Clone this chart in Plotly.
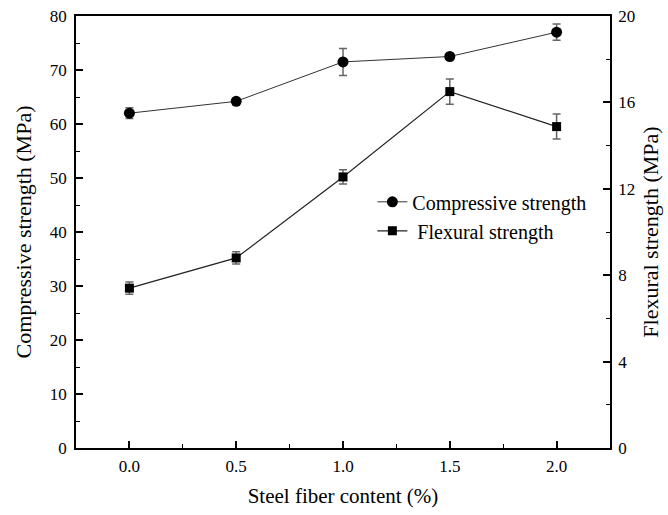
import plotly.graph_objects as go

# Steel fiber content (%)
fiber = [0.0, 0.5, 1.0, 1.5, 2.0]

# Compressive strength (MPa) and its standard deviation
compressive = [62.0, 64.2, 71.5, 72.5, 77.0]
compressive_err = [1.0, 0.5, 2.5, 0.5, 1.5]

# Flexural strength (MPa) and its standard deviation
flexural = [7.4, 8.8, 12.55, 16.5, 14.88]
flexural_err = [0.28, 0.28, 0.33, 0.58, 0.58]

x_ticks = [0.0, 0.5, 1.0, 1.5, 2.0]
left_ticks = list(range(0, 81, 10))
right_ticks = list(range(0, 21, 4))

FONT = "Liberation Serif, Times New Roman, serif"

fig = go.Figure()

fig.add_trace(go.Scatter(
    x=fiber, y=compressive, name="Compressive strength",
    mode="lines+markers",
    line=dict(color="#333333", width=1),
    marker=dict(symbol="circle", size=11, color="black"),
    error_y=dict(type="data", array=compressive_err, color="#666666",
                 thickness=1.5, width=4),
))

fig.add_trace(go.Scatter(
    x=fiber, y=flexural, name=" Flexural strength",
    mode="lines+markers", yaxis="y2",
    line=dict(color="#222222", width=1.2),
    marker=dict(symbol="square", size=9, color="black"),
    error_y=dict(type="data", array=flexural_err, color="#666666",
                 thickness=1.5, width=4),
))

axis_common = dict(
    showline=True, linecolor="black", linewidth=1.5,
    ticks="inside", ticklen=7, tickwidth=1.5, tickcolor="black",
    showgrid=False, zeroline=False, automargin=False,
    tickfont=dict(family=FONT, size=17, color="black"),
)


def minor_ticks(step):
    return dict(ticks="inside", ticklen=4, tickwidth=1.2,
                tickcolor="black", dtick=step, tick0=0)


fig.update_layout(
    width=668, height=515,
    margin=dict(l=76, r=58, t=16, b=67),
    paper_bgcolor="white", plot_bgcolor="white",
    font=dict(family=FONT, color="black"),
    xaxis=dict(
        range=[-0.25, 2.25], tickvals=x_ticks,
        ticktext=[f"{v:.1f}" for v in x_ticks],
        mirror=True, ticklabelstandoff=2,
        title=dict(text="Steel fiber content (%)",
                   font=dict(family=FONT, size=21), standoff=13),
        minor=minor_ticks(0.25),
        **axis_common,
    ),
    yaxis=dict(
        range=[0, 80], tickvals=left_ticks, ticklabelstandoff=4,
        title=dict(text="Compressive strength (MPa)",
                   font=dict(family=FONT, size=22), standoff=12),
        minor=minor_ticks(5),
        **axis_common,
    ),
    yaxis2=dict(
        range=[0, 20], tickvals=right_ticks, overlaying="y", side="right",
        ticklabelstandoff=3,
        title=dict(text="Flexural strength (MPa)",
                   font=dict(family=FONT, size=22), standoff=8),
        minor=minor_ticks(2),
        **axis_common,
    ),
    legend=dict(
        x=0.555, y=0.615, xanchor="left", yanchor="top",
        bgcolor="rgba(0,0,0,0)",
        font=dict(family=FONT, size=20, color="black"),
        tracegroupgap=0, itemwidth=30,
    ),
    showlegend=True,
)

fig.write_html("out.html")
